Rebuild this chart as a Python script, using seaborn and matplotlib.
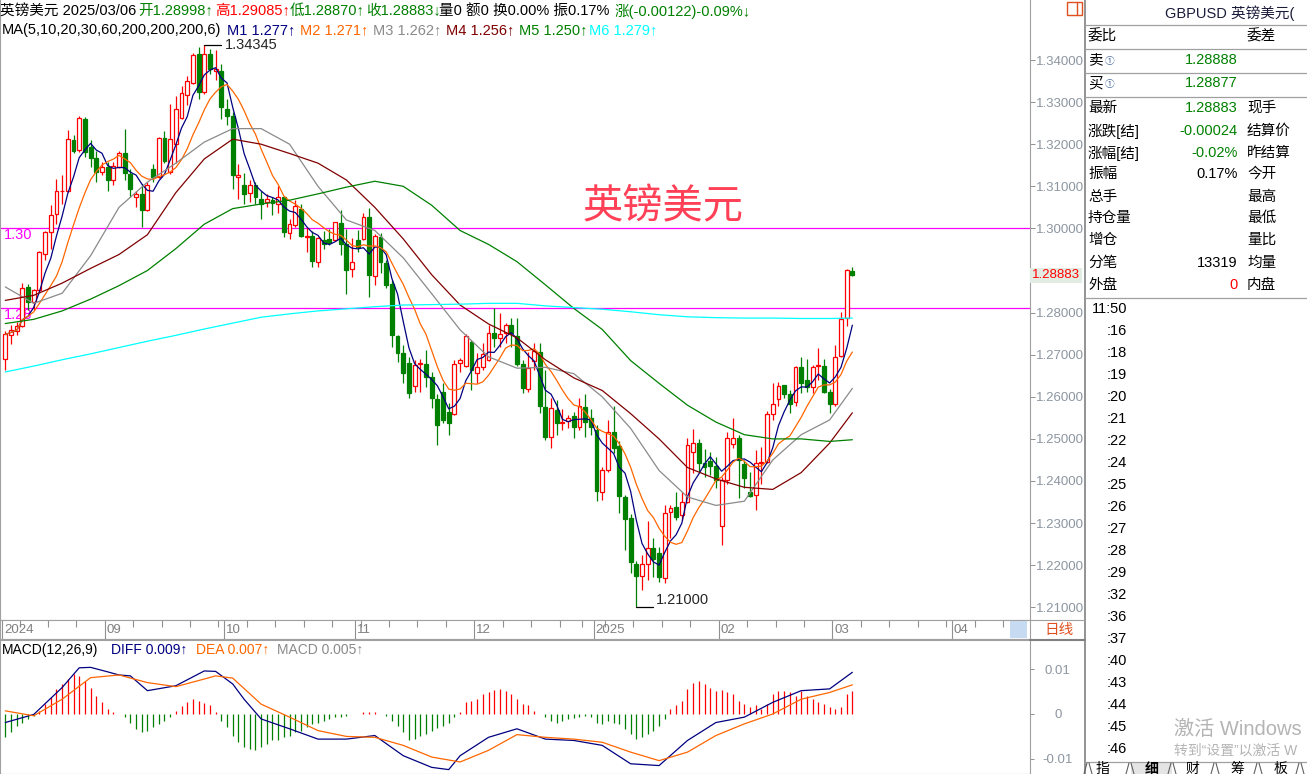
import numpy as np
import pandas as pd
import matplotlib
matplotlib.use("Agg")
import matplotlib.pyplot as plt
import seaborn as sns
from matplotlib.patches import Rectangle

# ===============================
# DATA  (GBPUSD daily, 2024-08-07 .. 2025-03-06)
# ===============================
opens = [
    1.2690, 1.2746, 1.2756, 1.2767, 1.2861, 1.2825, 1.2854, 1.2940, 1.2991, 1.3035,
    1.3088, 1.3089, 1.3211, 1.3187, 1.3261, 1.3193, 1.3168, 1.3134, 1.3146, 1.3116,
    1.3147, 1.3180, 1.3130, 1.3075, 1.3081, 1.3044, 1.3140, 1.3122, 1.3215, 1.3134,
    1.3201, 1.3263, 1.3317, 1.3345, 1.3415, 1.3324, 1.3415, 1.3375, 1.3375, 1.3284,
    1.3268, 1.3122, 1.3102, 1.3084, 1.3104, 1.3070, 1.3063, 1.3067, 1.3059, 1.3074,
    1.2989, 1.3009, 1.3046, 1.2979, 1.2983, 1.2920, 1.2973, 1.2974, 1.2973, 1.3013,
    1.2962, 1.2903, 1.2972, 1.2976, 1.3028, 1.2887, 1.2980, 1.2917, 1.2868, 1.2745,
    1.2705, 1.2680, 1.2626, 1.2678, 1.2678, 1.2646, 1.2595, 1.2612, 1.2565, 1.2559,
    1.2680, 1.2672, 1.2730, 1.2656, 1.2671, 1.2687, 1.2752, 1.2739, 1.2751, 1.2771,
    1.2745, 1.2679, 1.2618, 1.2684, 1.2707, 1.2575, 1.2504, 1.2569, 1.2537, 1.2543,
    1.2554, 1.2529, 1.2575, 1.2549, 1.2521, 1.2375, 1.2426, 1.2517, 1.2482, 1.2363,
    1.2311, 1.2204, 1.2174, 1.2203, 1.2240, 1.2228, 1.2169, 1.2327, 1.2339, 1.2319,
    1.2351, 1.2470, 1.2490, 1.2442, 1.2448, 1.2436, 1.2293, 1.2402, 1.2489, 1.2501,
    1.2440, 1.2375, 1.2367, 1.2442, 1.2446, 1.2559, 1.2594, 1.2628, 1.2607, 1.2588,
    1.2670, 1.2640, 1.2623, 1.2672, 1.2672, 1.2612, 1.2583, 1.2697, 1.2786, 1.28998,
]
highs = [
    1.2757, 1.2770, 1.2778, 1.2870, 1.2867, 1.2857, 1.2946, 1.2995, 1.3055, 1.3118,
    1.3128, 1.3233, 1.3222, 1.3267, 1.3264, 1.3209, 1.3185, 1.3158, 1.3158, 1.3158,
    1.3185, 1.3237, 1.3142, 1.3090, 1.3106, 1.3110, 1.3154, 1.3217, 1.3231, 1.3296,
    1.3314, 1.3338, 1.3363, 1.3416, 1.3431, 1.34345, 1.3427, 1.3423, 1.3390, 1.3308,
    1.3276, 1.3153, 1.3131, 1.3114, 1.3110, 1.3090, 1.3082, 1.3074, 1.3101, 1.3078,
    1.3023, 1.3068, 1.3059, 1.3003, 1.2995, 1.2979, 1.2995, 1.2999, 1.3015, 1.3043,
    1.2999, 1.2977, 1.2996, 1.3037, 1.3048, 1.2986, 1.2990, 1.2925, 1.2877, 1.2747,
    1.2723, 1.2695, 1.2688, 1.2689, 1.2711, 1.2660, 1.2607, 1.2632, 1.2585, 1.2687,
    1.2691, 1.2749, 1.2735, 1.2703, 1.2727, 1.2770, 1.2810, 1.2798, 1.2776, 1.2786,
    1.2786, 1.2687, 1.2707, 1.2727, 1.2727, 1.2663, 1.2596, 1.2593, 1.2572, 1.2557,
    1.2565, 1.2596, 1.2607, 1.2570, 1.2533, 1.2434, 1.2545, 1.2577, 1.2494, 1.2367,
    1.2322, 1.2211, 1.2224, 1.2306, 1.2264, 1.2244, 1.2343, 1.2343, 1.2375, 1.2375,
    1.2501, 1.2523, 1.2499, 1.2475, 1.2470, 1.2458, 1.2410, 1.2517, 1.2549, 1.2509,
    1.2450, 1.2422, 1.2474, 1.2481, 1.2567, 1.2632, 1.2636, 1.2628, 1.2615, 1.2672,
    1.2694, 1.2689, 1.2675, 1.2715, 1.2689, 1.2618, 1.2723, 1.2802, 1.2903, 1.29085,
]
lows = [
    1.2663, 1.2726, 1.2746, 1.2766, 1.2807, 1.2805, 1.2849, 1.2924, 1.2952, 1.3011,
    1.3059, 1.3087, 1.3178, 1.3182, 1.3169, 1.3147, 1.3110, 1.3126, 1.3090, 1.3103,
    1.3143, 1.3114, 1.3074, 1.3051, 1.3003, 1.3041, 1.3110, 1.3120, 1.3155, 1.3130,
    1.3155, 1.3260, 1.3292, 1.3344, 1.3308, 1.3320, 1.3367, 1.3352, 1.3260, 1.3245,
    1.3094, 1.3069, 1.3059, 1.3063, 1.3058, 1.3023, 1.3051, 1.3031, 1.3036, 1.2979,
    1.2975, 1.3004, 1.2979, 1.2944, 1.2908, 1.2908, 1.2952, 1.2960, 1.2971, 1.2936,
    1.2843, 1.2885, 1.2945, 1.2972, 1.2836, 1.2866, 1.2893, 1.2858, 1.2719, 1.2683,
    1.2632, 1.2596, 1.2612, 1.2612, 1.2624, 1.2573, 1.2486, 1.2537, 1.2509, 1.2557,
    1.2660, 1.2670, 1.2616, 1.2633, 1.2664, 1.2686, 1.2719, 1.2719, 1.2727, 1.2719,
    1.2674, 1.2608, 1.2612, 1.2664, 1.2562, 1.2497, 1.2478, 1.2509, 1.2521, 1.2525,
    1.2501, 1.2521, 1.2505, 1.2509, 1.2353, 1.2355, 1.2422, 1.2466, 1.2325, 1.2236,
    1.2182, 1.2100, 1.2141, 1.2165, 1.2173, 1.2161, 1.2157, 1.2264, 1.2307, 1.2307,
    1.2347, 1.2418, 1.2422, 1.2410, 1.2414, 1.2383, 1.2248, 1.2394, 1.2478, 1.2359,
    1.2383, 1.2363, 1.2331, 1.2394, 1.2442, 1.2545, 1.2578, 1.2596, 1.2561, 1.2578,
    1.2610, 1.2612, 1.2608, 1.2640, 1.2608, 1.2561, 1.2577, 1.2695, 1.2768, 1.28870,
]
closes = [
    1.2748, 1.2758, 1.2767, 1.2859, 1.2825, 1.2853, 1.2943, 1.2991, 1.3033, 1.3090,
    1.3090, 1.3213, 1.3185, 1.3262, 1.3182, 1.3168, 1.3134, 1.3147, 1.3116, 1.3148,
    1.3179, 1.3131, 1.3094, 1.3081, 1.3043, 1.3102, 1.3122, 1.3215, 1.3160, 1.3213,
    1.3283, 1.3322, 1.3349, 1.3413, 1.3324, 1.3415, 1.3379, 1.3378, 1.3288, 1.3268,
    1.3126, 1.3126, 1.3082, 1.3104, 1.3074, 1.3059, 1.3070, 1.3060, 1.3074, 1.2991,
    1.3011, 1.3053, 1.2983, 1.2983, 1.2922, 1.2977, 1.2962, 1.2965, 1.3015, 1.2964,
    1.2900, 1.2921, 1.2957, 1.3028, 1.2890, 1.2982, 1.2921, 1.2865, 1.2747, 1.2705,
    1.2657, 1.2608, 1.2676, 1.2680, 1.2646, 1.2596, 1.2533, 1.2545, 1.2537, 1.2678,
    1.2687, 1.2744, 1.2664, 1.2670, 1.2702, 1.2751, 1.2740, 1.2749, 1.2771, 1.2751,
    1.2679, 1.2620, 1.2668, 1.2709, 1.2577, 1.2504, 1.2573, 1.2537, 1.2541, 1.2549,
    1.2529, 1.2578, 1.2541, 1.2529, 1.2377, 1.2426, 1.2517, 1.2478, 1.2364, 1.2309,
    1.2208, 1.2174, 1.2203, 1.2240, 1.2214, 1.2171, 1.2325, 1.2337, 1.2315, 1.2351,
    1.2486, 1.2490, 1.2442, 1.2434, 1.2436, 1.2402, 1.2402, 1.2501, 1.2501, 1.2450,
    1.2408, 1.2364, 1.2442, 1.2446, 1.2559, 1.2584, 1.2626, 1.2607, 1.2583, 1.2670,
    1.2632, 1.2623, 1.2670, 1.2676, 1.2612, 1.2583, 1.2695, 1.2784, 1.2900, 1.28883,
]

# slow moving averages, read every 5th candle
ma_at = list(range(0, 146, 5)) + [149]
ma20 = [1.2861, 1.2822, 1.2846, 1.2935, 1.3050, 1.3110, 1.3155, 1.3205, 1.3237, 1.3237,
        1.3200, 1.3100, 1.3020, 1.2995, 1.2930, 1.2845, 1.2759, 1.2695, 1.2668, 1.2670,
        1.2655, 1.2600, 1.2525, 1.2425, 1.2362, 1.2342, 1.2352, 1.2450, 1.2510, 1.2545, 1.2620]
ma30 = [1.2829, 1.2841, 1.2870, 1.2905, 1.2938, 1.2985, 1.3085, 1.3165, 1.3212, 1.3200,
        1.3178, 1.3155, 1.3115, 1.3050, 1.2975, 1.2890, 1.2818, 1.2773, 1.2740, 1.2688,
        1.2645, 1.2615, 1.2560, 1.2500, 1.2432, 1.2405, 1.2385, 1.2380, 1.2420, 1.2490, 1.2562]
ma60 = [1.2774, 1.2784, 1.2804, 1.2832, 1.2864, 1.2900, 1.2952, 1.3010, 1.3047, 1.3058,
        1.3067, 1.3082, 1.3098, 1.3112, 1.3100, 1.3055, 1.2995, 1.2962, 1.2921, 1.2866,
        1.2810, 1.2760, 1.2686, 1.2632, 1.2580, 1.2540, 1.2510, 1.2500, 1.2500, 1.2494, 1.2498]
ma200 = [1.2659, 1.2673, 1.2688, 1.2702, 1.2717, 1.2732, 1.2746, 1.2761, 1.2775, 1.2789,
         1.2797, 1.2804, 1.2809, 1.2814, 1.2818, 1.2819, 1.2820, 1.2822, 1.2822, 1.2816,
         1.2812, 1.2808, 1.2802, 1.2795, 1.2790, 1.2788, 1.2787, 1.2787, 1.2786, 1.2786, 1.2787]

# MACD(12,26,9)
diff_at = [0, 5, 10, 13, 15, 18, 20, 22, 25, 30, 35, 37, 40, 42, 45, 50, 55, 60, 65, 70,
           75, 78, 80, 85, 90, 95, 100, 105, 110, 115, 120, 125, 130, 135, 140, 145, 149]
diff_vals = [-0.0019, -0.0001, 0.0059, 0.0103, 0.0104, 0.0094, 0.0087, 0.0085, 0.0052, 0.0063,
             0.0096, 0.0095, 0.0067, 0.0033, -0.0011, -0.0033, -0.0056, -0.0056, -0.0048, -0.0093,
             -0.0119, -0.0124, -0.0093, -0.0052, -0.0033, -0.0056, -0.0059, -0.0070, -0.0111, -0.0115,
             -0.0059, -0.0019, -0.0007, 0.0026, 0.0052, 0.0056, 0.0093]
dea_at = [0, 5, 10, 15, 20, 25, 30, 35, 37, 40, 45, 50, 55, 60, 65, 70, 75, 80, 85, 90,
          95, 100, 105, 110, 115, 120, 125, 130, 135, 140, 145, 149]
dea_vals = [0.0007, -0.0004, 0.0033, 0.0081, 0.0087, 0.0070, 0.0061, 0.0078, 0.0085, 0.0080,
            0.0022, -0.0007, -0.0037, -0.0050, -0.0052, -0.0070, -0.0096, -0.0107, -0.0081, -0.0046,
            -0.0052, -0.0056, -0.0063, -0.0085, -0.0104, -0.0085, -0.0048, -0.0022, 0.0000, 0.0033,
            0.0048, 0.0065]
macd_bars = [
    -0.0052, -0.0041, -0.0026, -0.0019, -0.0011, -0.0004, 0.0007, 0.0022, 0.0037, 0.0056,
    0.0067, 0.0078, 0.0089, 0.0085, 0.0074, 0.0059, 0.0041, 0.0026, 0.0011, 0.0004,
    -0.0001, -0.0007, -0.0019, -0.0033, -0.0041, -0.0037, -0.0030, -0.0022, -0.0015, -0.0007,
    0.0006, 0.0018, 0.0026, 0.0033, 0.0030, 0.0024, 0.0019, 0.0004, -0.0015, -0.0030,
    -0.0048, -0.0063, -0.0074, -0.0078, -0.0080, -0.0074, -0.0067, -0.0059, -0.0059, -0.0052,
    -0.0048, -0.0041, -0.0037, -0.0030, -0.0022, -0.0019, -0.0015, -0.0011, -0.0007, -0.0006,
    -0.0004, -0.0001, 0.0001, 0.0004, 0.0005, 0.0004, 0.0001, -0.0004, -0.0015, -0.0026,
    -0.0041, -0.0059, -0.0056, -0.0048, -0.0044, -0.0037, -0.0031, -0.0026, -0.0019, -0.0007,
    0.0004, 0.0026, 0.0030, 0.0033, 0.0044, 0.0048, 0.0053, 0.0056, 0.0052, 0.0044,
    0.0033, 0.0022, 0.0019, 0.0007, 0.0001, -0.0007, -0.0015, -0.0019, -0.0015, -0.0011,
    -0.0009, -0.0006, -0.0004, -0.0007, -0.0019, -0.0022, -0.0015, -0.0019, -0.0022, -0.0033,
    -0.0044, -0.0056, -0.0052, -0.0044, -0.0037, -0.0026, -0.0011, 0.0011, 0.0019, 0.0030,
    0.0056, 0.0070, 0.0073, 0.0067, 0.0059, 0.0052, 0.0053, 0.0048, 0.0044, 0.0030,
    0.0022, 0.0015, 0.0019, 0.0011, 0.0022, 0.0044, 0.0052, 0.0052, 0.0048, 0.0041,
    0.0052, 0.0041, 0.0033, 0.0026, 0.0022, 0.0015, 0.0011, 0.0015, 0.0044, 0.0052,
]

ref_levels = [1.30, 1.281]
ref_labels = ["1.30", "1.28"]
price_ticks = np.round(np.arange(1.21, 1.3401, 0.01), 2)
macd_ticks = [0.01, 0.0, -0.01]
macd_tick_labels = ["0.01", "0", "-0.01"]

# ===============================
# STYLE
# ===============================
sns.set_style("white")
plt.rcParams["font.family"] = ["Liberation Sans", "Noto Sans CJK SC", "DejaVu Sans"]
plt.rcParams["axes.unicode_minus"] = False

RED, GREEN, NAVY, ORANGE = "#FF0000", "#008000", "#000080", "#FF6600"
GRAYLINE, TICKTXT = "#A0A0A0", "#8C96A0"

W, H = 1307, 774
fig = plt.figure(figsize=(W / 100, H / 100), dpi=100)


def px_box(x0, y0, x1, y1):
    return [x0 / W, 1 - y1 / H, (x1 - x0) / W, (y1 - y0) / H]


ax = fig.add_axes(px_box(0, 0, 1030, 620))
axd = fig.add_axes(px_box(0, 620, 1030, 639))
axm = fig.add_axes(px_box(0, 640, 1030, 774))
over = fig.add_axes([0, 0, 1, 1], zorder=10)
over.set_xlim(0, W)
over.set_ylim(H, 0)
over.axis("off")

X0, DX = 5.3, 5.685
xlim = (-X0 / DX, (1030 - X0) / DX)

# ===============================
# CANDLES + MOVING AVERAGES
# ===============================
o, h, l, c = (np.array(v) for v in (opens, highs, lows, closes))
x = np.arange(len(c))
up = c >= o
body = np.maximum(np.abs(c - o), 0.00004)

ax.vlines(x[up], l[up], h[up], color=RED, lw=0.9, zorder=2)
ax.vlines(x[~up], l[~up], h[~up], color=GREEN, lw=0.9, zorder=2)
ax.bar(x[up], body[up], bottom=o[up], width=0.68, facecolor="white",
       edgecolor=RED, linewidth=0.9, zorder=2.5)
ax.bar(x[~up], body[~up], bottom=c[~up], width=0.68, facecolor=GREEN,
       edgecolor=GREEN, linewidth=0.9, zorder=2.5)

ma5 = pd.Series(c).rolling(5, min_periods=1).mean().to_numpy()
ma10 = pd.Series(c).rolling(10, min_periods=1).mean().to_numpy()
for xs, ys, col in [(x, ma5, NAVY), (x, ma10, ORANGE), (ma_at, ma20, "#8A8A8A"),
                    (ma_at, ma30, "#800000"), (ma_at, ma60, GREEN), (ma_at, ma200, "#00FFFF")]:
    sns.lineplot(x=np.asarray(xs), y=np.asarray(ys), ax=ax, color=col, linewidth=0.9, zorder=3)

for lv, lab in zip(ref_levels, ref_labels):
    ax.axhline(lv, color="#FF00FF", lw=0.9, zorder=1.5)
    ax.text(0.004, lv, lab, transform=ax.get_yaxis_transform(), color="#FF00FF",
            fontsize=10.5, va="top", ha="left", zorder=1)

hi = int(np.argmax(h))
lo = int(np.argmin(l))
ax.plot([hi, hi + 3], [h[hi], h[hi]], color="black", lw=0.9, zorder=4)
ax.text(hi + 3.6, h[hi], f"{h[hi]:.5f}", fontsize=10.5, va="center", ha="left", zorder=4)
ax.plot([lo, lo + 3], [l[lo], l[lo]], color="black", lw=0.9, zorder=4)
ax.text(lo + 3.5, l[lo], f"{l[lo]:.5f}", fontsize=10.5, va="bottom", ha="left", zorder=4)

ax.set_xlim(xlim)
ax.set_ylim(1.206983, 1.354252)
ax.set_xlabel("")
ax.set_ylabel("")
ax.set_xticks([])
ax.yaxis.tick_right()
ax.set_yticks(price_ticks)
# the 1.29 label sits under the current-price tag, so leave it blank
ax.set_yticklabels(["" if abs(t - 1.29) < 1e-9 else f"{t:.5f}" for t in price_ticks])
ax.tick_params(axis="y", right=True, left=False, direction="out", length=3.6, width=0.7,
               color="#909090", labelcolor=TICKTXT, labelsize=9.5, pad=0.5)
for sp in ax.spines.values():
    sp.set_color(GRAYLINE)
    sp.set_linewidth(0.8)
ax.spines["top"].set_visible(False)

ax.text(1.002, c[-1], f"{c[-1]:.5f}", transform=ax.get_yaxis_transform(), color=RED,
        fontsize=9.5, va="center", ha="left", clip_on=False, zorder=6,
        bbox=dict(boxstyle="square,pad=0.12", fc="#E3ECE3", ec="none"))

# ===============================
# DATE STRIP
# ===============================
days = pd.bdate_range("2024-08-07", "2025-06-30")
days = days[~days.isin(pd.to_datetime(["2024-12-25", "2025-01-01"]))]
months = np.asarray(days.month)
new_month = np.r_[True, months[1:] != months[:-1]]
mondays = np.asarray(days.dayofweek) == 0

axd.set_xlim(xlim)
axd.set_ylim(0, 1)
axd.set_xticks([])
axd.set_yticks([])
for p in np.where(new_month)[0]:
    if p - 0.5 > xlim[1]:
        break
    axd.vlines(p - 0.5, 0, 1, color="#909090", lw=0.8)
    lab = str(days[p].year) if (p == 0 or days[p].month == 1) else f"{days[p].month:02d}"
    axd.text(p - 0.5 + 0.35, 0.45, lab, color="#7F7F7F", fontsize=9.5, va="center", ha="left")
for p in np.where(mondays & ~new_month)[0]:
    if p - 0.5 < xlim[1]:
        axd.vlines(p - 0.5, 0.62, 1, color="#909090", lw=0.8)
for sp in axd.spines.values():
    sp.set_color(GRAYLINE)
    sp.set_linewidth(0.8)

# ===============================
# MACD PANEL
# ===============================
bars = np.array(macd_bars)
pos = bars >= 0
axm.vlines(x[pos], 0, bars[pos], color=RED, lw=0.9)
axm.vlines(x[~pos], 0, bars[~pos], color=GREEN, lw=0.9)
sns.lineplot(x=np.asarray(diff_at), y=np.asarray(diff_vals), ax=axm, color=NAVY, linewidth=0.9)
sns.lineplot(x=np.asarray(dea_at), y=np.asarray(dea_vals), ax=axm, color=ORANGE, linewidth=0.9)
axm.set_xlim(xlim)
axm.set_ylim(-0.01338, 0.0165)
axm.set_xlabel("")
axm.set_ylabel("")
axm.set_xticks([])
axm.yaxis.tick_right()
axm.set_yticks(macd_ticks)
axm.set_yticklabels(macd_tick_labels)
axm.tick_params(axis="y", right=True, left=False, direction="out", length=3, width=0.7,
                color="#909090", labelcolor=TICKTXT, labelsize=9.5, pad=17)
for t in axm.get_yticklabels():
    t.set_ha("center")
for sp in axm.spines.values():
    sp.set_color(GRAYLINE)
    sp.set_linewidth(0.8)
axm.spines["top"].set_linewidth(1.5)

# ===============================
# HEADER TEXTS
# ===============================
def seg(txt, xp, yp, col, fs=10.5, **kw):
    over.text(xp, yp, txt, color=col, fontsize=fs, va="center", ha="left", **kw)


for txt, xp, col in [("英镑美元 2025/03/06", 0, "black"), ("开1.28998↑", 138, GREEN),
                     ("高1.29085↑", 215, RED), ("低1.28870↑", 290, GREEN),
                     ("收1.28883↓", 366, GREEN), ("量0 额0 换0.00% 振0.17%", 439, "black"),
                     ("涨(-0.00122)-0.09%↓", 615, GREEN)]:
    seg(txt, xp, 11, col)
for txt, xp, col in [("MA(5,10,20,30,60,200,200,200,6)", 2, "black"), ("M1 1.277↑", 227, NAVY),
                     ("M2 1.271↑", 300, ORANGE), ("M3 1.262↑", 373, "#8A8A8A"),
                     ("M4 1.256↑", 446, "#800000"), ("M5 1.250↑", 519, GREEN),
                     ("M6 1.279↑", 589, "#00FFFF")]:
    seg(txt, xp, 30, col)
for txt, xp, col in [("MACD(12,26,9)", 2, "black"), ("DIFF 0.009↑", 111, NAVY),
                     ("DEA 0.007↑", 196, ORANGE), ("MACD 0.005↑", 277, "#8A8A8A")]:
    seg(txt, xp, 650, col, fs=10)

over.text(663, 207, "英镑美元", color="#FF4056", fontsize=29, ha="center", va="center")

# ===============================
# RIGHT SIDE FRAME + INFO PANEL
# ===============================
over.plot([1085, 1085], [0, H], color="#808080", lw=1.2)
over.plot([1030, 1085], [620, 620], color=GRAYLINE, lw=0.8)
over.plot([1030, 1085], [640, 640], color="#808080", lw=1.5)
over.add_patch(Rectangle((1010, 621), 17, 17, fc="#C6DAF2", ec="none"))
over.text(1059, 630, "日线", color="#E0501E", fontsize=10.5, ha="center", va="center")
over.add_patch(Rectangle((1067, 2), 15, 13, fill=False, ec="#E0501E", lw=1))
over.plot([1077, 1077], [2, 15], color="#E0501E", lw=1)

for yl in [25, 49, 73, 97, 298, 762]:
    over.plot([1085, W], [yl, yl], color=GRAYLINE, lw=0.9)

seg("GBPUSD 英镑美元(", 1165, 13, "#1B1B3A")
seg("委比", 1088, 36, "black")
seg("委差", 1247, 36, "black")
for lab, val, yp in [("卖", "1.28888", 60), ("买", "1.28877", 83)]:
    seg(lab, 1088, yp, "black")
    seg("①", 1105, yp + 1, "#5070A0", fs=7)
    over.text(1238, yp, val, color=GREEN, fontsize=10.5, ha="right", va="center")

panel_rows = [("最新", "1.28883", "现手", GREEN, 108), ("涨跌[结]", "-0.00024", "结算价", GREEN, 131),
              ("涨幅[结]", "-0.02%", "昨结算", GREEN, 153), ("振幅", "0.17%", "今开", "black", 174),
              ("总手", "", "最高", "black", 197), ("持仓量", "", "最低", "black", 218),
              ("增仓", "", "量比", "black", 240), ("分笔", "13319", "均量", "black", 263),
              ("外盘", "0", "内盘", RED, 285)]
for left, val, right, col, yp in panel_rows:
    seg(left, 1088, yp, "black")
    seg(right, 1247, yp, "black")
    over.text(1238, yp, val, color=col, fontsize=10.5, ha="right", va="center")

tick_times = ["11:50", ":16", ":18", ":19", ":20", ":21", ":22", ":24", ":25", ":26", ":27",
              ":28", ":29", ":32", ":36", ":37", ":40", ":43", ":44", ":45", ":46"]
for k, tt in enumerate(tick_times):
    over.text(1127, 309 + 22 * k, tt, color="black", fontsize=10.5, ha="right", va="center")

over.text(1174, 729, "激活 Windows", color="#B4B4B4", fontsize=14.5, ha="left", va="center")
over.text(1174, 751, "转到“设置”以激活 W", color="#B4B4B4", fontsize=10, ha="left", va="center")

over.add_patch(Rectangle((1131, 763), 41, 11, fc="#E4E4E4", ec="none"))
for b in [1088, 1130, 1172, 1215, 1258, 1300]:
    over.plot([b - 4, b - 1], [774, 763], color="#606060", lw=0.8)
    over.plot([b + 1, b + 4], [763, 774], color="#606060", lw=0.8)
for tab, xp in zip(["指", "细", "财", "筹", "板"], [1103, 1152, 1193, 1237, 1280]):
    over.text(xp, 769, tab, color="black", fontsize=10, ha="center", va="center",
              fontweight="bold" if tab == "细" else "normal")

fig.savefig("out.png", dpi=100)
